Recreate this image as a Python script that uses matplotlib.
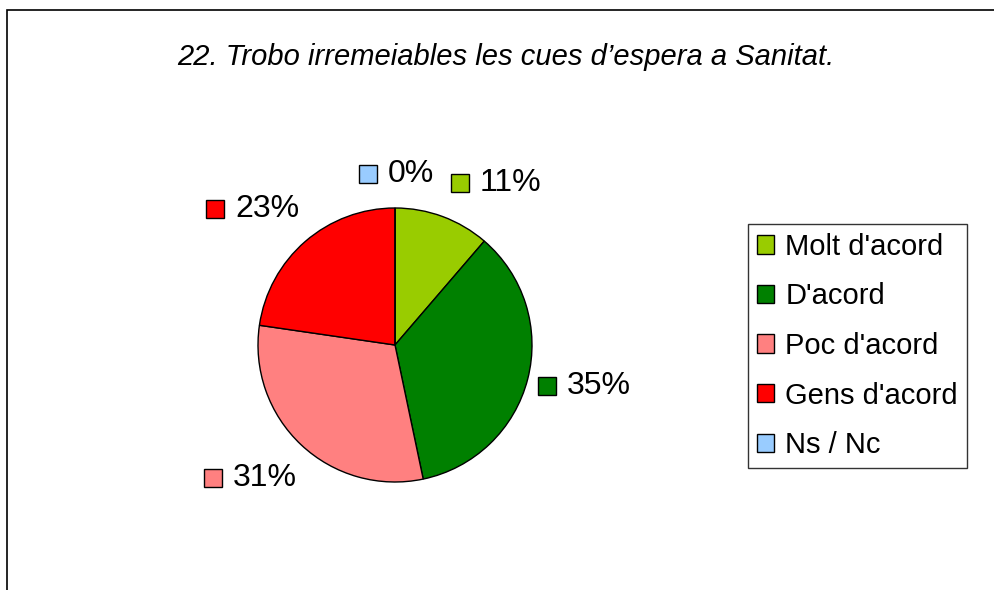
import matplotlib
matplotlib.use("Agg")
import matplotlib.pyplot as plt
from matplotlib.patches import Rectangle

plt.rcParams['font.family'] = ['Liberation Sans', 'DejaVu Sans']

# data
title = "22. Trobo irremeiables les cues d\u2019espera a Sanitat."
categories = ["Molt d'acord", "D'acord", "Poc d'acord", "Gens d'acord", "Ns / Nc"]
values = [11.3, 35.4, 30.6, 22.7, 0.0]
colors = ["#99CC00", "#008000", "#FF8080", "#FF0000", "#99CCFF"]

# where each percent label sits (pie units, centre = 0,0)
label_pos = [(0.474, 1.182), (1.109, -0.299), (-1.328, -0.971), (-1.314, 0.993), (-0.197, 1.248)]

W, H = 995, 590
fig = plt.figure(figsize=(W / 100, H / 100), dpi=100)

# outer frame (runs off the right and bottom)
fig.patches.append(Rectangle((7 / W, -0.1), 1.1, (H - 10) / H + 0.1,
                             transform=fig.transFigure, fill=False,
                             edgecolor="black", linewidth=1.2))

fig.text(506 / W, 1 - 57 / H, title, ha="center", va="center",
         fontsize=21, style="italic")

cx, cy, r = 395, 345, 137
ax = fig.add_axes([(cx - r) / W, (H - cy - r) / H, 2 * r / W, 2 * r / H])
wedges, _ = ax.pie(values, colors=colors, startangle=90, counterclock=False,
                   wedgeprops=dict(edgecolor="black", linewidth=1))
ax.set_xlim(-1, 1)
ax.set_ylim(-1, 1)
ax.set_aspect("equal")
ax.axis("off")

unit = 20 / r
for v, c, (lx, ly) in zip(values, colors, label_pos):
    ax.plot(lx, ly, marker="s", markersize=12.5, markerfacecolor=c,
            markeredgecolor="black", markeredgewidth=1, clip_on=False)
    ax.text(lx + unit, ly, f"{round(v)}%", ha="left", va="center",
            fontsize=23, clip_on=False)

leg = fig.legend(wedges, categories, loc="upper left",
                 bbox_to_anchor=(748 / W, 1 - 224 / H),
                 fontsize=21, frameon=True, fancybox=False,
                 edgecolor="black", handlelength=0.6, handleheight=0.6,
                 handletextpad=0.38, labelspacing=0.74, borderpad=0.3,
                 borderaxespad=0)
leg.get_frame().set_linewidth(1)

fig.savefig("out.png", dpi=100)
